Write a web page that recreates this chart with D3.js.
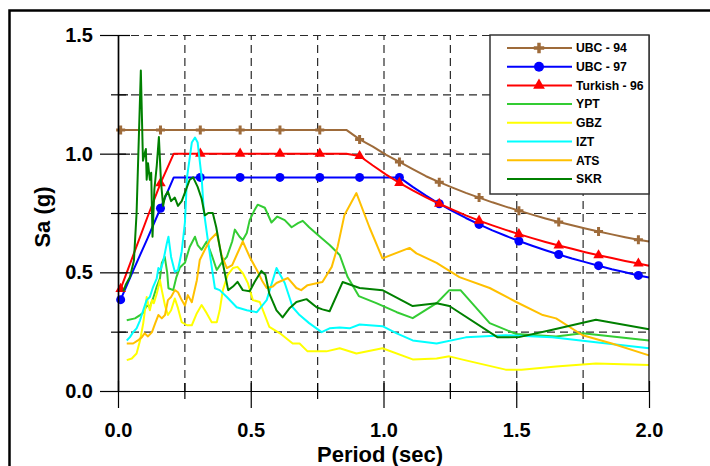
<!DOCTYPE html>
<html>
<head>
<meta charset="utf-8">
<script src="https://cdn.jsdelivr.net/npm/d3@7"></script>
<style>
body { margin: 0; background: #fff; }
text { font-family: "Liberation Sans", Arial, sans-serif; font-weight: bold; }
</style>
</head>
<body>
<div id="chart"></div>
<script>
// code spectra share one period grid, markers on every 3rd point
var codeT = [0.01,0.06,0.11,0.16,0.21,0.26,0.31,0.36,0.41,0.46,0.51,0.56,0.61,0.66,0.71,0.76,0.81,0.86,0.91,0.96,
             1.01,1.06,1.11,1.16,1.21,1.26,1.31,1.36,1.41,1.46,1.51,1.56,1.61,1.66,1.71,1.76,1.81,1.86,1.91,1.96,2.0];
var ubc94 = [1.1,1.1,1.1,1.1,1.1,1.1,1.1,1.1,1.1,1.1,1.1,1.1,1.1,1.1,1.1,1.1,1.1,1.1,1.06,1.03,
             0.995,0.965,0.935,0.905,0.88,0.857,0.835,0.815,0.795,0.777,0.76,0.743,0.727,0.712,0.698,0.685,0.672,0.66,0.648,0.637,0.63];
var ubc97 = [0.385,0.515,0.64,0.77,0.9,0.9,0.9,0.9,0.9,0.9,0.9,0.9,0.9,0.9,0.9,0.9,0.9,0.9,0.9,0.9,
             0.9,0.9,0.86,0.823,0.789,0.758,0.729,0.702,0.677,0.654,0.632,0.612,0.593,0.575,0.558,0.543,0.528,0.513,0.5,0.487,0.478];
var turkish96 = [0.43,0.58,0.73,0.875,1.0,1.0,1.0,1.0,1.0,1.0,1.0,1.0,1.0,1.0,1.0,1.0,1.0,1.0,0.99,0.95,
             0.912,0.877,0.845,0.816,0.789,0.764,0.74,0.718,0.698,0.679,0.661,0.644,0.628,0.613,0.599,0.585,0.572,0.56,0.548,0.537,0.528];

// recorded spectra
var yptT = [0.033,0.064,0.083,0.095,0.108,0.12,0.132,0.146,0.158,0.165,0.176,0.185,0.19,0.208,0.22,0.233,0.252,0.27,0.29,0.30,
            0.315,0.334,0.353,0.372,0.39,0.41,0.43,0.44,0.458,0.47,0.485,0.496,0.515,0.526,0.553,0.578,0.60,0.628,0.654,0.678,
            0.696,0.72,0.752,0.797,0.835,0.865,0.907,0.973,1.05,1.11,1.2,1.248,1.29,1.40,1.50,1.65,1.75,2.0];
var yptSa = [0.298,0.306,0.32,0.33,0.36,0.354,0.39,0.44,0.475,0.54,0.565,0.502,0.433,0.425,0.48,0.52,0.54,0.607,0.65,0.615,
            0.595,0.63,0.573,0.51,0.54,0.565,0.63,0.68,0.65,0.636,0.666,0.72,0.764,0.785,0.772,0.71,0.735,0.72,0.69,0.707,
            0.717,0.69,0.658,0.615,0.573,0.48,0.40,0.37,0.332,0.307,0.37,0.425,0.425,0.286,0.24,0.23,0.243,0.213];

var gbzT = [0.033,0.052,0.07,0.083,0.095,0.108,0.113,0.12,0.128,0.135,0.146,0.158,0.165,0.177,0.188,0.2,0.214,0.226,0.24,0.26,
            0.278,0.297,0.315,0.334,0.353,0.372,0.383,0.395,0.413,0.433,0.45,0.47,0.489,0.508,0.534,0.57,0.61,0.658,0.684,0.714,
            0.785,0.835,0.898,0.996,1.11,1.2,1.248,1.31,1.46,1.52,1.65,1.80,2.0];
var gbzSa = [0.13,0.137,0.158,0.213,0.285,0.396,0.37,0.34,0.383,0.37,0.41,0.467,0.425,0.36,0.32,0.34,0.39,0.349,0.29,0.277,
            0.277,0.328,0.362,0.328,0.29,0.29,0.34,0.425,0.489,0.518,0.523,0.497,0.455,0.383,0.375,0.27,0.243,0.20,0.20,0.167,
            0.167,0.18,0.158,0.18,0.133,0.137,0.146,0.129,0.09,0.09,0.103,0.116,0.11];

var iztT = [0.033,0.045,0.057,0.07,0.083,0.095,0.108,0.12,0.132,0.146,0.152,0.16,0.17,0.184,0.19,0.20,0.214,0.226,0.24,0.252,
            0.26,0.278,0.29,0.30,0.315,0.323,0.34,0.353,0.365,0.383,0.41,0.447,0.485,0.523,0.56,0.597,0.628,0.658,0.684,0.72,
            0.767,0.797,0.835,0.872,0.91,0.996,1.05,1.11,1.2,1.31,1.46,1.635,1.80,2.0];
var iztSa = [0.213,0.227,0.248,0.264,0.298,0.34,0.383,0.396,0.438,0.475,0.518,0.51,0.545,0.623,0.65,0.565,0.502,0.51,0.588,0.71,
            0.90,1.047,1.068,1.047,0.90,0.76,0.623,0.523,0.433,0.425,0.396,0.353,0.34,0.332,0.383,0.518,0.455,0.353,0.32,0.286,
            0.248,0.264,0.268,0.264,0.28,0.273,0.243,0.213,0.20,0.226,0.235,0.226,0.205,0.18];

var atsT = [0.033,0.057,0.075,0.09,0.10,0.113,0.128,0.14,0.152,0.165,0.177,0.188,0.2,0.214,0.226,0.24,0.252,0.263,0.278,0.297,
            0.308,0.327,0.346,0.372,0.39,0.41,0.43,0.447,0.47,0.496,0.523,0.545,0.56,0.583,0.597,0.64,0.672,0.69,0.714,0.752,
            0.77,0.805,0.827,0.853,0.898,0.947,0.996,1.098,1.124,1.2,1.286,1.40,1.50,1.60,1.65,1.75,1.86,2.0];
var atsSa = [0.2,0.2,0.213,0.227,0.243,0.23,0.248,0.285,0.32,0.306,0.32,0.383,0.396,0.425,0.416,0.383,0.36,0.404,0.374,0.467,
            0.552,0.595,0.636,0.666,0.573,0.518,0.53,0.573,0.63,0.565,0.51,0.46,0.434,0.44,0.455,0.476,0.434,0.425,0.446,0.455,
            0.459,0.523,0.607,0.742,0.834,0.69,0.559,0.603,0.58,0.54,0.48,0.434,0.375,0.32,0.306,0.235,0.20,0.15];

var skrT = [0.02,0.03,0.045,0.06,0.07,0.078,0.086,0.094,0.1,0.105,0.108,0.113,0.12,0.125,0.13,0.137,0.146,0.154,0.162,0.17,
            0.177,0.188,0.2,0.214,0.226,0.24,0.252,0.27,0.283,0.30,0.315,0.327,0.34,0.357,0.37,0.39,0.40,0.415,0.433,0.45,
            0.47,0.496,0.515,0.54,0.555,0.57,0.597,0.62,0.647,0.672,0.71,0.748,0.77,0.797,0.846,0.91,0.996,1.11,1.2,1.248,
            1.43,1.51,1.624,1.80,2.0];
var skrSa = [0.42,0.45,0.48,0.55,0.75,1.05,1.35,0.97,1.0,1.02,0.89,0.96,0.89,0.92,0.65,0.85,0.95,1.07,0.88,0.78,
            0.82,0.84,0.80,0.815,0.78,0.80,0.836,0.89,0.90,0.86,0.81,0.74,0.75,0.75,0.69,0.565,0.51,0.425,0.44,0.46,
            0.425,0.42,0.46,0.506,0.49,0.41,0.34,0.31,0.35,0.375,0.387,0.353,0.344,0.336,0.459,0.434,0.425,0.358,0.37,0.358,
            0.226,0.227,0.255,0.30,0.26];

var seriesNames = ["UBC - 94", "UBC - 97", "Turkish - 96", "YPT", "GBZ", "IZT", "ATS", "SKR"];
var seriesColors = ["#9E6B3A", "#0000FF", "#FF0000", "#33CC33", "#FFFF00", "#00FFFF", "#FFC000", "#008000"];

var xTicks = [0, 0.5, 1.0, 1.5, 2.0];
var xMinor = [0.25, 0.75, 1.25, 1.75];
var yTicks = [0, 0.5, 1.0, 1.5];
var yMinor = [0.25, 0.75, 1.25];

var width = 710, height = 466;
var plotL = 118, plotR = 649, plotT = 35, plotB = 391;

var xScale = d3.scaleLinear().domain([0, 2]).range([plotL, plotR]);
var yScale = d3.scaleLinear().domain([0, 1.5]).range([plotB, plotT]);

var svg = d3.select("#chart").append("svg")
        .attr("width", width)
        .attr("height", height);

svg.append("rect").attr("width", width).attr("height", height).attr("fill", "#fff");

// outer frame, runs off the right and bottom
svg.append("rect")
        .attr("x", 9.5).attr("y", 10.5)
        .attr("width", 740).attr("height", 480)
        .attr("fill", "none").attr("stroke", "#000").attr("stroke-width", 2.5);

// dashed grid
var gridX = d3.axisBottom(xScale).tickValues([0.25, 0.5, 0.75, 1.0, 1.25, 1.5, 1.75])
        .tickSize(-(plotB - plotT)).tickFormat("");
var gridY = d3.axisLeft(yScale).tickValues([0.25, 0.5, 0.75, 1.0, 1.25, 1.5])
        .tickSize(-(plotR - plotL)).tickFormat("");
svg.append("g").attr("class", "grid").attr("transform", "translate(0," + plotB + ")").call(gridX);
svg.append("g").attr("class", "grid").attr("transform", "translate(" + plotL + ",0)").call(gridY);
svg.selectAll(".grid .domain").remove();
svg.selectAll(".grid line").attr("stroke", "#2a2a2a").attr("stroke-width", 1.2).attr("stroke-dasharray", "8,5");

var line = d3.line().x(function(d) { return xScale(d[0]); }).y(function(d) { return yScale(d[1]); });

function zip(t, v) { return t.map(function(d, i) { return [d, v[i]]; }); }

var codeData = [ubc94, ubc97, turkish96].map(function(v) { return zip(codeT, v); });
var recData = [zip(yptT, yptSa), zip(gbzT, gbzSa), zip(iztT, iztSa), zip(atsT, atsSa), zip(skrT, skrSa)];

var symbols = [
    d3.symbol().type(d3.symbolCross).size(45),
    null,
    d3.symbol().type(d3.symbolTriangle).size(48)
];

var plot = svg.append("g");
codeData.forEach(function(data, k) {
    plot.append("path").datum(data)
        .attr("fill", "none").attr("stroke", seriesColors[k]).attr("stroke-width", 2)
        .attr("stroke-linejoin", "round")
        .attr("d", line);
    var marks = data.filter(function(d, i) { return i % 3 === 0 && i < 40; });
    if (k === 1) {
        plot.selectAll(null).data(marks).enter().append("circle")
            .attr("cx", function(d) { return xScale(d[0]); })
            .attr("cy", function(d) { return yScale(d[1]); })
            .attr("r", 4.5).attr("fill", seriesColors[k]);
    } else {
        plot.selectAll(null).data(marks).enter().append("path")
            .attr("transform", function(d) { return "translate(" + xScale(d[0]) + "," + yScale(d[1]) + ")"; })
            .attr("d", symbols[k]).attr("fill", seriesColors[k]);
    }
});
recData.forEach(function(data, k) {
    plot.append("path").datum(data)
        .attr("fill", "none").attr("stroke", seriesColors[k + 3]).attr("stroke-width", 2)
        .attr("stroke-linejoin", "round")
        .attr("d", line);
});

// axes with ticks on both sides of the axis line
function styleAxis(g) {
    g.selectAll("line").attr("stroke", "#000").attr("stroke-width", 1.2);
    g.selectAll("path.domain").attr("stroke", "#000").attr("stroke-width", 1.2);
    g.selectAll("text").attr("font-size", 20).attr("fill", "#000")
        .attr("font-family", '"Liberation Sans", Arial, sans-serif').attr("font-weight", "bold");
}
var fmt = d3.format(".1f");
svg.append("g").attr("transform", "translate(" + plotL + ",0)")
    .call(d3.axisLeft(yScale).tickValues(yTicks).tickSize(18).tickSizeOuter(0).tickPadding(7).tickFormat(fmt)).call(styleAxis);
svg.append("g").attr("transform", "translate(" + plotL + ",0)")
    .call(d3.axisRight(yScale).tickValues(yTicks).tickSize(12).tickSizeOuter(0).tickFormat("")).call(styleAxis);
svg.append("g").attr("transform", "translate(" + plotL + ",0)")
    .call(d3.axisLeft(yScale).tickValues(yMinor).tickSize(7).tickSizeOuter(0).tickFormat("")).call(styleAxis);
svg.append("g").attr("transform", "translate(" + plotL + ",0)")
    .call(d3.axisRight(yScale).tickValues(yMinor).tickSize(10).tickSizeOuter(0).tickFormat("")).call(styleAxis);

svg.append("g").attr("transform", "translate(0," + plotB + ")")
    .call(d3.axisBottom(xScale).tickValues(xTicks).tickSize(17).tickSizeOuter(0).tickPadding(15).tickFormat(fmt)).call(styleAxis);
svg.append("g").attr("transform", "translate(0," + plotB + ")")
    .call(d3.axisTop(xScale).tickValues(xTicks).tickSize(10).tickSizeOuter(0).tickFormat("")).call(styleAxis);
svg.append("g").attr("transform", "translate(0," + plotB + ")")
    .call(d3.axisBottom(xScale).tickValues(xMinor).tickSize(8).tickSizeOuter(0).tickFormat("")).call(styleAxis);
svg.append("g").attr("transform", "translate(0," + plotB + ")")
    .call(d3.axisTop(xScale).tickValues(xMinor).tickSize(8).tickSizeOuter(0).tickFormat("")).call(styleAxis);

// right border of the plot
svg.append("line")
    .attr("x1", plotR).attr("x2", plotR).attr("y1", plotT).attr("y2", plotB)
    .attr("stroke", "#000").attr("stroke-width", 1.2);

// axis titles
svg.append("text")
    .attr("x", 380).attr("y", 462)
    .attr("text-anchor", "middle").attr("font-size", 22)
    .text("Period (sec)");
svg.append("text")
    .attr("transform", "translate(50,217) rotate(-90)")
    .attr("text-anchor", "middle").attr("font-size", 22)
    .text("Sa (g)");

// legend
var legend = svg.append("g");
legend.append("rect")
    .attr("x", 490).attr("y", 35).attr("width", 159).attr("height", 159)
    .attr("fill", "#fff").attr("stroke", "#333").attr("stroke-width", 1.5);
seriesNames.forEach(function(name, i) {
    var ly = 48 + i * 18.7;
    legend.append("line")
        .attr("x1", 507).attr("x2", 572).attr("y1", ly).attr("y2", ly)
        .attr("stroke", seriesColors[i]).attr("stroke-width", 2);
    if (i === 1) {
        legend.append("circle").attr("cx", 539).attr("cy", ly).attr("r", 5).attr("fill", seriesColors[i]);
    } else if (i === 0 || i === 2) {
        legend.append("path").attr("transform", "translate(539," + ly + ")")
            .attr("d", d3.symbol().type(i === 0 ? d3.symbolCross : d3.symbolTriangle).size(60))
            .attr("fill", seriesColors[i]);
    }
    legend.append("text")
        .attr("x", 576).attr("y", ly).attr("dy", "0.36em")
        .attr("font-size", 12.2)
        .text(name);
});
</script>
</body>
</html>
